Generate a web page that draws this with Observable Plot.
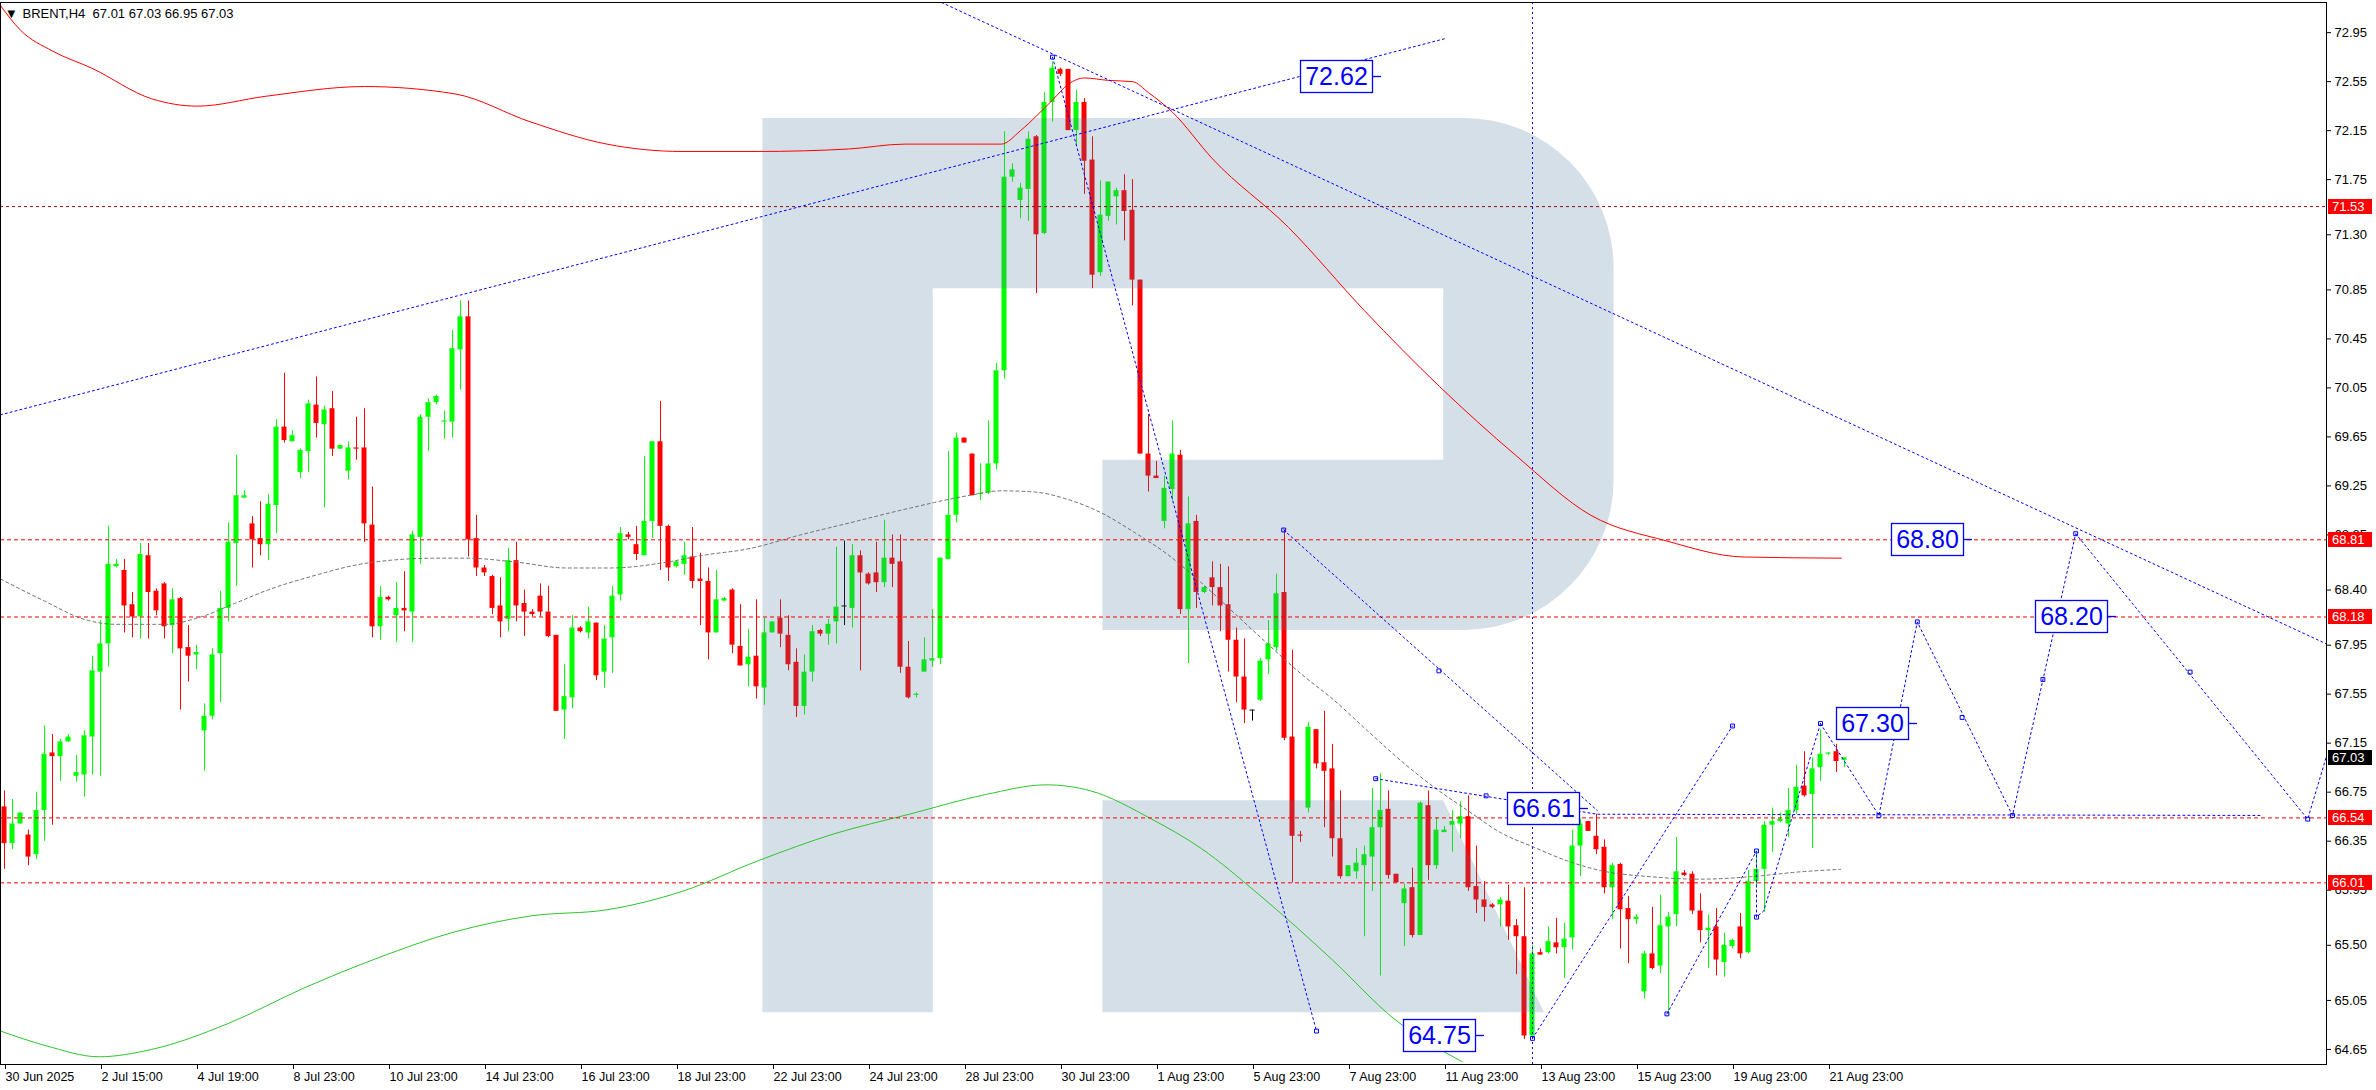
<!DOCTYPE html>
<html><head><meta charset="utf-8">
<script src="https://cdn.jsdelivr.net/npm/d3@7"></script>
<script src="https://cdn.jsdelivr.net/npm/@observablehq/plot@0.6"></script>
<style>
html,body{margin:0;padding:0;background:#fff;overflow:hidden;}
svg{display:block;}
</style></head><body>
<script>
// ---------- DATA ----------
const symbolName = "BRENT";
const timeframe = "H4";
const lastOHLC = [67.01, 67.03, 66.95, 67.03];

const opens = [66.63,66.33,66.49,66.40,66.24,66.60,67.07,67.04,67.16,66.88,
66.89,67.20,67.73,67.96,68.59,68.56,68.28,68.18,68.68,68.39,
68.45,68.11,68.33,67.93,67.87,67.25,67.37,67.88,68.25,68.78,
69.15,68.94,68.82,68.77,69.09,69.73,69.61,69.36,69.53,69.91,
69.75,69.88,69.55,69.37,69.56,69.56,68.93,68.10,68.34,68.19,
68.25,68.22,68.83,69.81,69.93,69.77,69.77,70.36,70.63,68.82,
68.58,68.51,68.27,68.16,68.64,68.29,68.22,68.35,68.22,68.03,
67.42,67.52,68.09,68.05,68.13,67.73,68.01,68.36,68.85,68.77,
68.68,68.96,69.61,68.92,68.59,68.61,68.67,68.49,68.47,68.05,
68.31,68.40,67.94,67.79,67.86,67.60,68.05,68.17,68.03,67.81,
67.45,67.73,68.07,68.04,68.14,68.27,68.25,68.68,68.53,68.54,
68.46,68.66,68.63,67.77,67.54,67.73,67.82,67.84,68.65,69.01,
69.64,69.51,69.18,69.19,69.43,70.19,71.77,71.58,71.67,72.10,
71.31,72.38,72.65,72.65,72.15,72.38,71.91,70.99,71.45,71.61,
71.66,71.50,70.93,69.51,69.33,68.96,69.22,69.50,68.24,68.96,
68.38,68.50,68.42,68.28,67.99,67.69,67.42,67.50,67.83,67.93,
68.38,67.20,66.40,66.62,67.26,66.99,66.94,66.37,66.06,66.10,
66.15,66.22,66.46,66.61,66.08,65.84,65.97,65.58,66.64,66.15,
66.42,66.48,66.49,66.55,65.98,65.87,65.83,65.83,65.86,65.66,
65.57,64.76,65.44,65.44,65.52,65.48,65.56,66.31,66.51,66.39,
66.30,65.97,66.16,65.80,65.71,65.12,65.43,65.33,65.65,65.75,
66.09,66.08,65.78,65.62,65.65,65.36,65.49,65.65,65.44,66.02,
66.12,66.48,66.51,66.49,66.60,66.80,66.73,66.95,67.06,67.08,
67.01];

const highs = [66.76,66.69,66.58,66.44,66.75,67.29,67.22,67.18,67.22,67.05,
67.25,67.86,68.15,68.92,68.65,68.65,68.38,68.78,68.78,68.41,
68.46,68.41,68.34,68.11,67.95,67.47,67.92,68.39,68.95,69.50,
69.21,69.00,69.12,69.18,69.79,70.17,69.70,69.55,69.95,70.14,
69.90,70.02,69.58,69.61,69.81,69.88,69.24,68.43,68.35,68.46,
68.55,68.88,69.83,69.96,69.99,69.86,70.52,70.76,70.76,69.01,
68.60,68.52,68.50,68.74,68.79,68.40,68.24,68.45,68.43,68.03,
67.79,68.19,68.10,68.26,68.13,68.11,68.43,68.91,68.87,68.92,
69.49,69.61,69.94,68.93,68.64,68.79,68.91,68.70,68.58,68.56,
68.34,68.41,68.28,68.08,68.32,68.17,68.14,68.32,68.19,67.92,
67.87,68.11,68.08,68.16,68.75,68.80,68.77,68.72,68.54,68.79,
68.97,68.85,68.85,67.98,67.56,68.01,68.24,68.66,69.53,69.68,
69.64,69.51,69.43,69.78,70.25,72.14,71.88,71.72,72.14,72.11,
72.46,72.71,72.66,72.65,72.48,72.41,72.10,71.74,71.73,71.68,
71.79,71.75,70.93,69.83,69.45,69.33,69.78,69.54,69.16,69.01,
68.43,68.63,68.61,68.59,68.09,68.00,67.42,67.84,68.15,68.53,
68.89,67.91,66.43,67.32,67.26,67.41,67.14,66.76,66.15,66.29,
66.31,66.78,66.90,66.76,66.08,66.00,66.13,66.67,66.76,66.54,
66.47,66.60,66.67,66.72,66.31,66.02,65.84,65.89,65.99,65.71,
65.97,65.50,65.47,65.65,65.72,65.68,66.44,66.53,66.51,66.57,
66.36,66.17,66.17,65.90,65.75,65.45,65.81,65.91,65.77,66.38,
66.11,66.10,65.92,65.75,65.80,65.60,65.55,65.76,66.11,66.27,
66.51,66.62,66.58,66.78,66.97,67.08,67.03,67.26,67.07,67.14,
67.03];

const lows = [66.12,66.28,66.49,66.15,66.20,66.35,66.48,66.84,67.16,66.83,
66.71,66.89,66.88,67.77,68.58,68.05,68.01,68.00,68.00,68.19,
68.00,67.88,67.42,67.65,67.75,66.92,67.34,67.48,68.14,68.43,
69.15,68.58,68.68,68.64,68.86,69.60,69.61,69.31,69.36,69.64,
69.07,69.49,69.55,69.30,69.46,68.79,68.01,67.99,68.31,67.97,
68.06,67.97,68.61,69.53,69.91,69.63,69.64,70.03,68.67,68.51,
68.51,68.20,68.01,68.06,68.14,68.02,68.18,68.18,68.01,67.41,
67.18,67.43,68.05,68.00,67.66,67.60,67.72,68.31,68.81,68.64,
68.68,68.82,68.56,68.47,68.58,68.52,68.41,68.11,67.83,68.05,
68.31,67.88,67.78,67.61,67.51,67.46,68.05,67.93,67.74,67.36,
67.38,67.65,68.02,67.95,67.96,68.11,68.09,67.74,68.44,68.38,
68.42,68.42,67.72,67.51,67.52,67.73,67.77,67.79,68.65,68.95,
69.60,69.17,69.13,69.18,69.38,70.12,71.73,71.43,71.41,70.82,
71.30,72.22,72.59,72.15,72.02,71.63,70.86,70.96,71.41,71.38,
71.25,70.72,69.51,69.20,69.31,68.90,69.13,68.20,67.80,68.25,
68.37,68.27,68.06,67.73,67.48,67.31,67.33,67.49,67.71,67.90,
67.17,66.01,66.34,66.58,66.94,66.46,66.22,66.04,66.06,66.04,
65.57,65.94,65.25,66.04,66.01,65.49,65.56,65.58,66.03,66.12,
66.42,66.26,66.37,65.94,65.76,65.69,65.80,65.65,65.54,65.26,
64.73,64.74,65.42,65.43,65.43,65.23,65.46,66.06,66.43,66.24,
65.92,65.71,65.47,65.35,65.67,65.06,65.30,65.27,64.94,65.65,
66.06,65.75,65.52,65.31,65.25,65.24,65.47,65.39,65.43,65.97,
65.77,66.26,66.50,66.38,66.57,66.71,66.29,66.84,67.05,66.91,
66.95];

const closes = [66.33,66.49,66.58,66.22,66.60,67.06,67.04,67.16,67.20,66.91,
67.21,67.74,67.96,68.61,68.61,68.27,68.18,68.69,68.38,68.23,
68.10,68.32,67.92,67.86,67.89,67.37,67.87,68.25,68.79,69.17,
69.17,68.81,68.77,69.10,69.73,69.62,69.66,69.54,69.92,69.76,
69.87,69.55,69.58,69.56,69.55,68.94,68.10,68.34,68.32,68.25,
68.23,68.85,69.81,69.93,69.98,69.78,70.37,70.63,68.81,68.58,
68.54,68.25,68.14,68.64,68.27,68.22,68.20,68.22,68.02,67.41,
67.53,68.09,68.06,68.14,67.70,68.00,68.35,68.86,68.83,68.69,
68.96,69.61,68.92,68.58,68.63,68.68,68.47,68.47,68.05,68.32,
68.33,67.95,67.78,67.85,67.61,68.05,68.14,68.04,67.79,67.45,
67.73,68.06,68.04,68.12,68.26,68.27,68.68,68.54,68.45,68.46,
68.66,68.61,67.77,67.52,67.55,67.83,67.84,68.66,69.01,69.64,
69.60,69.17,69.19,69.43,70.19,71.77,71.83,71.68,72.08,71.30,
72.38,72.66,72.61,72.15,72.38,71.90,70.97,71.46,71.73,71.66,
71.49,70.93,69.51,69.33,69.31,69.23,69.51,68.24,68.94,68.38,
68.42,68.42,68.27,67.99,67.69,67.42,67.42,67.82,67.96,68.37,
67.19,66.39,66.39,67.28,66.98,66.92,66.37,66.06,66.15,66.17,
66.24,66.46,66.60,66.07,66.01,65.96,65.58,66.66,66.15,66.44,
66.44,66.51,66.55,65.97,65.87,65.81,65.81,65.87,65.65,65.57,
64.76,65.43,65.42,65.53,65.48,65.55,66.31,66.49,66.43,66.28,
65.97,66.15,65.79,65.71,65.73,65.43,65.31,65.66,65.73,66.10,
66.07,65.78,65.62,65.64,65.38,65.50,65.54,65.43,66.02,66.12,
66.48,66.51,66.53,66.60,66.79,66.72,66.94,67.06,67.07,67.00,
67.03];

// moving averages, read as [bar index, price]
const redMA = [[-0.5,73.17],[2,72.97],[6,72.80],[10.9,72.66],[18.4,72.41],[24.1,72.35],[32.6,72.43],[45,72.51],[56.3,72.45],[65.8,72.22],[75.3,72.04],[84.7,71.98],[94.2,71.98],[105.5,72.00],[112.5,72.04],[124.6,72.04],[127,72.15],[129,72.27],[131,72.40],[133,72.53],[135,72.58],[138,72.56],[141,72.55],[143,72.46],[146,72.30],[151,71.92],[160.5,71.36],[170,70.68],[179.4,70.06],[188.9,69.50],[198.3,69.01],[207.8,68.80],[217.3,68.67],[229.6,68.66]];
const grayMA = [[-0.5,68.49],[5,68.31],[10,68.16],[14,68.12],[20,68.12],[24.5,68.18],[28.75,68.29],[32.9,68.40],[38.3,68.51],[45.3,68.62],[53.7,68.66],[57.8,68.66],[63.7,68.63],[70.3,68.58],[75.75,68.58],[83,68.63],[87,68.68],[93.25,68.74],[99.5,68.85],[105.75,68.95],[113.25,69.07],[120.4,69.17],[124.6,69.21],[128.75,69.20],[132.9,69.14],[137.1,69.03],[141.25,68.87],[145.4,68.69],[149.6,68.46],[153.75,68.21],[157.9,67.96],[162,67.72],[166.2,67.50],[170.4,67.25],[174.5,67.01],[178.7,66.79],[182.9,66.60],[187,66.42],[191.2,66.30],[195.3,66.19],[199.5,66.11],[205.75,66.06],[212,66.04],[218.25,66.06],[224.5,66.10],[229.5,66.12]];
const greenMA = [[-0.5,64.80],[5.2,64.68],[11.8,64.59],[18.4,64.65],[27.9,64.86],[37.4,65.15],[46.8,65.40],[56.3,65.61],[65.8,65.74],[75.3,65.79],[84.7,65.94],[94.2,66.19],[103.7,66.41],[113.1,66.57],[122.6,66.73],[130.2,66.81],[135.8,66.76],[143.4,66.53],[149.6,66.29],[156.7,65.92],[166,65.38],[173.7,64.90],[182.2,64.55]];

// horizontal levels
const upperLevel = 71.53;
const levels = [68.81, 68.18, 66.54, 66.01];
const currentPrice = 67.03;
const tagPrices = [71.53, 68.81, 68.18, 67.03, 66.54, 66.01];

// analysis lines [bar, price]
const lineL1 = [[-0.5,69.83],[180,72.90]];
const lineL2 = [[116,73.23],[290.25,67.96]];
const lineL3 = [[131,72.75],[164,64.80]];
const lineL4 = [[159.9,68.89],[199.1,66.60]];
const lineL5 = [[171.4,66.86],[199.1,66.57],[282,66.56]];
const lineL6 = [[191,64.74],[216,67.29]];
const lineL7 = [[207.8,64.94],[219,66.27],[219,65.73],[219.9,65.78],[227,67.31]];
const forecastPath = [[227,67.31],[234.3,66.56],[239.1,68.14],[251.0,66.56],[258.9,68.86],[287.9,66.53],[290.6,67.12]];
const verticalBar = 191;
const anchorPoints = [[131,72.75],[164,64.80],[159.9,68.89],[179.3,67.74],[171.4,66.86],[185.2,66.72],[191,64.74],[216,67.29],[207.8,64.94],[219,66.27],[219,65.73],[227,67.31],[234.3,66.56],[239.1,68.14],[244.7,67.36],[251.0,66.56],[254.8,67.67],[258.9,68.86],[273.2,67.73],[287.9,66.53]];

// price labels (text, left bar, price)
const labelTexts = ["72.62","68.80","68.20","67.30","66.61","64.75"];
const labelBars = [162.0,235.9,253.9,229.0,187.9,174.9];
const labelPrices = [72.59,68.81,68.18,67.31,66.62,64.76];

// axes
const yTickValues = [72.95,72.55,72.15,71.75,71.30,70.85,70.45,70.05,69.65,69.25,68.85,68.40,67.95,67.55,67.15,66.75,66.35,65.95,65.50,65.05,64.65];
const xTickLabels = ["30 Jun 2025","2 Jul 15:00","4 Jul 19:00","8 Jul 23:00","10 Jul 23:00","14 Jul 23:00","16 Jul 23:00","18 Jul 23:00","22 Jul 23:00","24 Jul 23:00","28 Jul 23:00","30 Jul 23:00","1 Aug 23:00","5 Aug 23:00","7 Aug 23:00","11 Aug 23:00","13 Aug 23:00","15 Aug 23:00","19 Aug 23:00","21 Aug 23:00"];
const barsPerTick = 12;

// watermark logo outline, in bar / price units
const watermark = {stemLeft:94.8, stemRight:116.1, top:72.25, armBottom:70.86, bowlRight:201.2, holeRight:179.9, midTop:69.46, midBottom:68.07, legLeft:137.3, legTop:66.68, legRightTop:179.9, legRightBottom:192.5, bottom:64.95};

// ---------- CHART ----------
const xDomain = [-0.5, 290.25];
const yDomain = [64.527, 73.196];
const FONT = "Liberation Sans, Arial, sans-serif";
const BLUE = "#0000ff";
const UP = "#00ff00", DOWN = "#ff0000", DOJI = "#000000";

const bars = opens.map((o, i) => {
  const c = closes[i];
  return {i, o, c, h: Math.max(highs[i], o, c), l: Math.min(lows[i], o, c)};
});
const colorOf = d => d.c > d.o ? UP : d.c < d.o ? DOWN : DOJI;

const xTicks = xTickLabels.map((_, k) => k * barsPerTick);
const xLabelMap = new Map(xTicks.map((b, k) => [b, xTickLabels[k]]));

const lineSeries = [
  ["L1", lineL1], ["L2", lineL2], ["L3", lineL3], ["L4", lineL4],
  ["L5", lineL5], ["L6", lineL6], ["L7", lineL7], ["F", forecastPath]
].flatMap(([name, pts]) => pts.map(([b, p]) => ({name, b, p})));

function getScales(scales, dims) {
  const sx = typeof scales.x === "function" ? scales.x :
    d3.scaleLinear().domain(xDomain).range([dims.marginLeft, dims.width - dims.marginRight]);
  const sy = typeof scales.y === "function" ? scales.y :
    d3.scaleLinear().domain(yDomain).range([dims.height - dims.marginBottom, dims.marginTop]);
  return [sx, sy];
}

function watermarkMark(index, scales, values, dims) {
  const [x, y] = getScales(scales, dims);
  const w = watermark, r = 150;
  const d = [
    `M${x(w.stemLeft)},${y(w.top)}`,
    `H${x(w.bowlRight) - r}`,
    `A${r},${r} 0 0 1 ${x(w.bowlRight)},${y(w.top) + r}`,
    `V${y(w.midBottom) - r}`,
    `A${r},${r} 0 0 1 ${x(w.bowlRight) - r},${y(w.midBottom)}`,
    `H${x(w.legLeft)}`, `V${y(w.midTop)}`, `H${x(w.holeRight)}`, `V${y(w.armBottom)}`,
    `H${x(w.stemRight)}`, `V${y(w.bottom)}`, `H${x(w.stemLeft)}`, `Z`,
    `M${x(w.legLeft)},${y(w.legTop)}`, `H${x(w.legRightTop)}`,
    `L${x(w.legRightBottom)},${y(w.bottom)}`, `H${x(w.legLeft)}`, `Z`
  ].join("");
  const g = d3.create("svg:g");
  g.append("path").attr("d", d).attr("fill", "#4d7799").attr("fill-opacity", 0.235);
  return g.node();
}

function labelsMark(index, scales, values, dims) {
  const [x, y] = getScales(scales, dims);
  const g = d3.create("svg:g");
  labelTexts.forEach((t, k) => {
    const x0 = Math.round(x(labelBars[k])), yc = Math.round(y(labelPrices[k]));
    const bw = 72, bh = 32;
    g.append("rect").attr("x", x0 + 0.5).attr("y", yc - bh / 2 + 0.5).attr("width", bw).attr("height", bh)
      .attr("fill", "#fff").attr("stroke", BLUE).attr("stroke-width", 1.3);
    g.append("line").attr("x1", x0 + bw + 0.5).attr("x2", x0 + bw + 9).attr("y1", yc + 0.5).attr("y2", yc + 0.5)
      .attr("stroke", BLUE).attr("stroke-width", 1.3);
    g.append("text").attr("x", x0 + bw / 2 + 0.5).attr("y", yc + 9).attr("text-anchor", "middle")
      .attr("font-family", FONT).attr("font-size", 25).attr("fill", BLUE).text(t);
  });
  return g.node();
}

function tagsMark(index, scales, values, dims) {
  const [, y] = getScales(scales, dims);
  const x0 = dims.width - dims.marginRight + 2;
  const g = d3.create("svg:g");
  tagPrices.forEach(p => {
    const yc = Math.round(y(p));
    g.append("rect").attr("x", x0).attr("y", yc - 7).attr("width", 44).attr("height", 15)
      .attr("fill", p === currentPrice ? "#000" : "#ff0000");
    g.append("text").attr("x", x0 + 4).attr("y", yc + 5).attr("text-anchor", "start")
      .attr("font-family", FONT).attr("font-size", 13)
      .attr("fill", "#fff").text(p.toFixed(2));
  });
  return g.node();
}

const chart = Plot.plot({
  width: 2376, height: 1090,
  marginLeft: 0, marginRight: 50, marginTop: 2, marginBottom: 26,
  x: {domain: xDomain, axis: null},
  y: {domain: yDomain, axis: null},
  style: {fontFamily: FONT, background: "#fff", color: "#000", overflow: "visible"},
  marks: [
    // candles
    Plot.ruleX(bars, {x: "i", y1: "l", y2: "h", stroke: colorOf, strokeWidth: 1}),
    Plot.rect(bars.filter(d => d.o !== d.c), {x1: d => d.i - 0.3125, x2: d => d.i + 0.3125, y1: "o", y2: "c", fill: colorOf}),
    Plot.ruleY(bars.filter(d => d.o === d.c), {x1: d => d.i - 0.3125, x2: d => d.i + 0.3125, y: "o", stroke: DOJI}),
    // watermark
    watermarkMark,
    // moving averages
    Plot.line(grayMA, {x: d => d[0], y: d => d[1], stroke: "#6e6e6e", strokeWidth: 1, strokeDasharray: "3,3", curve: "monotone-x", clip: true}),
    Plot.line(redMA, {x: d => d[0], y: d => d[1], stroke: "#ff0000", strokeWidth: 1, curve: "monotone-x", clip: true}),
    Plot.line(greenMA, {x: d => d[0], y: d => d[1], stroke: "#2ec42e", strokeWidth: 1, curve: "monotone-x", clip: true}),
    // horizontal levels
    Plot.ruleY([upperLevel], {stroke: "#8a1010", strokeWidth: 1, strokeDasharray: "3,3"}),
    Plot.ruleY(levels, {stroke: "#ff0000", strokeWidth: 1, strokeDasharray: "4,3"}),
    // analysis lines
    Plot.ruleX([verticalBar], {stroke: BLUE, strokeWidth: 1, strokeDasharray: "2,3"}),
    Plot.line(lineSeries, {x: "b", y: "p", z: "name", stroke: BLUE, strokeWidth: 1, strokeDasharray: "2,3", clip: true}),
    Plot.dot(anchorPoints, {x: d => d[0], y: d => d[1], symbol: "square", r: 2.2, stroke: BLUE, fill: "none", strokeWidth: 1}),
    labelsMark,
    // frame and axes
    Plot.frame({stroke: "#000", strokeWidth: 1}),
    Plot.axisY({anchor: "right", ticks: yTickValues, tickFormat: d => d.toFixed(2), tickSize: 4, tickPadding: 4, fontSize: 13, textAnchor: "start"}),
    Plot.axisX({anchor: "bottom", ticks: xTicks, tickFormat: d => xLabelMap.get(d), tickSize: 5, tickPadding: 3, fontSize: 12.5, textAnchor: "start", dx: 1}),
    tagsMark,
    // header
    Plot.text(["\u25BC"], {frameAnchor: "top-left", dx: 7, dy: 11, lineAnchor: "middle", textAnchor: "start", fontSize: 10, fontFamily: "DejaVu Sans"}),
    Plot.text([`${symbolName},${timeframe}  ${lastOHLC.map(v => v.toFixed(2)).join(" ")}`], {frameAnchor: "top-left", dx: 22, dy: 11, lineAnchor: "middle", textAnchor: "start", fontSize: 13})
  ]
});
document.body.appendChild(chart);
</script>
</body></html>
